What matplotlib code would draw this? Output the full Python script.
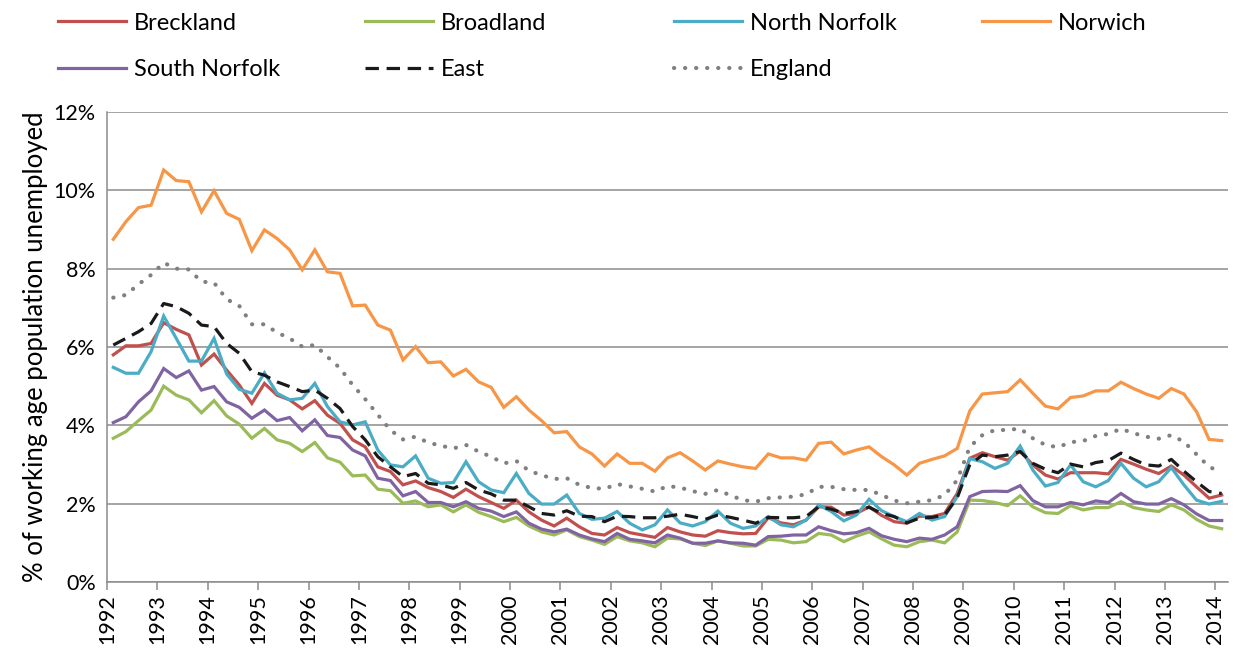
import numpy as np
import matplotlib
matplotlib.use("Agg")
import matplotlib.pyplot as plt

plt.rcParams['font.family'] = ['Lato', 'DejaVu Sans']

# Quarterly claimant unemployment, % of working age population, 1992 Q1 - 2014 Q1
years = list(range(1992, 2015))

breckland = [5.8, 6.03, 6.03, 6.09, 6.62, 6.45, 6.31, 5.54, 5.82, 5.41, 5.03, 4.56, 5.07,
             4.77, 4.65, 4.42, 4.63, 4.26, 4.05, 3.63, 3.45, 2.94, 2.82, 2.48, 2.58,
             2.41, 2.31, 2.16, 2.37, 2.18, 2.03, 1.88, 2.09, 1.79, 1.58, 1.43, 1.63,
             1.41, 1.24, 1.2, 1.39, 1.26, 1.2, 1.14, 1.39, 1.28, 1.2, 1.17, 1.31,
             1.26, 1.23, 1.24, 1.64, 1.51, 1.46, 1.58, 1.92, 1.91, 1.71, 1.75, 1.92,
             1.7, 1.54, 1.5, 1.68, 1.67, 1.75, 2.26, 3.16, 3.3, 3.2, 3.11, 3.34, 2.99,
             2.73, 2.63, 2.79, 2.79, 2.79, 2.76, 3.13, 3.01, 2.88, 2.77, 2.96, 2.73, 2.43, 2.14, 2.22]

broadland = [3.67, 3.84, 4.12, 4.39, 5.0, 4.77, 4.65, 4.32, 4.63, 4.24, 4.03, 3.67, 3.92,
             3.63, 3.54, 3.33, 3.56, 3.17, 3.06, 2.71, 2.73, 2.37, 2.33, 2.01, 2.07,
             1.92, 1.97, 1.79, 1.97, 1.78, 1.67, 1.54, 1.65, 1.43, 1.28, 1.2, 1.33,
             1.16, 1.07, 0.96, 1.16, 1.05, 1.0, 0.9, 1.12, 1.1, 0.99, 0.93, 1.05,
             0.99, 0.92, 0.92, 1.09, 1.07, 1.0, 1.03, 1.24, 1.2, 1.03, 1.17, 1.28,
             1.1, 0.94, 0.9, 1.03, 1.07, 1.0, 1.28, 2.09, 2.08, 2.03, 1.95, 2.2, 1.92,
             1.77, 1.75, 1.95, 1.84, 1.9, 1.9, 2.05, 1.9, 1.84, 1.8, 1.97, 1.84, 1.6, 1.43, 1.36]

north_norfolk = [5.48, 5.33, 5.33, 5.88, 6.79, 6.22, 5.64, 5.64, 6.22, 5.31, 4.92, 4.82, 5.34,
                 4.82, 4.65, 4.69, 5.07, 4.48, 4.09, 4.01, 4.09, 3.37, 2.99, 2.94, 3.22,
                 2.65, 2.52, 2.54, 3.07, 2.56, 2.35, 2.28, 2.77, 2.26, 1.99, 1.99, 2.22,
                 1.75, 1.6, 1.63, 1.8, 1.5, 1.33, 1.46, 1.84, 1.51, 1.43, 1.54, 1.81,
                 1.5, 1.37, 1.43, 1.67, 1.46, 1.41, 1.58, 1.97, 1.8, 1.56, 1.71, 2.11,
                 1.82, 1.67, 1.54, 1.75, 1.58, 1.67, 2.18, 3.15, 3.07, 2.9, 3.03, 3.47, 2.86,
                 2.45, 2.54, 2.99, 2.56, 2.43, 2.59, 3.03, 2.65, 2.43, 2.56, 2.92, 2.48, 2.09, 1.99, 2.06]

norwich = [8.75, 9.2, 9.56, 9.62, 10.52, 10.25, 10.22, 9.45, 9.99, 9.41, 9.26, 8.46, 8.99,
           8.77, 8.48, 7.97, 8.48, 7.92, 7.88, 7.05, 7.07, 6.56, 6.43, 5.67, 6.01,
           5.6, 5.62, 5.26, 5.43, 5.11, 4.97, 4.46, 4.73, 4.39, 4.12, 3.81, 3.84,
           3.45, 3.27, 2.96, 3.27, 3.03, 3.03, 2.83, 3.17, 3.3, 3.09, 2.86, 3.09,
           3.01, 2.94, 2.9, 3.27, 3.17, 3.17, 3.11, 3.54, 3.57, 3.27, 3.37, 3.45,
           3.2, 2.99, 2.73, 3.03, 3.13, 3.22, 3.41, 4.37, 4.8, 4.83, 4.86, 5.16, 4.82,
           4.49, 4.42, 4.71, 4.75, 4.88, 4.88, 5.1, 4.94, 4.8, 4.69, 4.94, 4.8, 4.35, 3.64, 3.61]

south_norfolk = [4.07, 4.22, 4.6, 4.88, 5.45, 5.22, 5.39, 4.9, 4.99, 4.6, 4.46, 4.18, 4.39,
                 4.12, 4.2, 3.86, 4.14, 3.74, 3.69, 3.37, 3.22, 2.65, 2.59, 2.2, 2.31,
                 2.03, 2.03, 1.92, 2.05, 1.88, 1.81, 1.67, 1.79, 1.5, 1.35, 1.28, 1.35,
                 1.2, 1.1, 1.03, 1.24, 1.09, 1.05, 1.0, 1.2, 1.12, 0.99, 0.99, 1.05,
                 1.0, 0.99, 0.94, 1.16, 1.17, 1.2, 1.2, 1.41, 1.31, 1.23, 1.26, 1.37,
                 1.18, 1.09, 1.03, 1.12, 1.09, 1.2, 1.41, 2.18, 2.31, 2.32, 2.31, 2.46, 2.08,
                 1.92, 1.92, 2.03, 1.97, 2.07, 2.03, 2.26, 2.05, 1.99, 1.99, 2.13, 1.97, 1.74, 1.57, 1.57]

east = [6.05, 6.22, 6.39, 6.6, 7.11, 7.03, 6.86, 6.56, 6.52, 6.09, 5.84, 5.37, 5.28,
        5.11, 4.99, 4.86, 4.9, 4.69, 4.43, 3.97, 3.63, 3.2, 2.94, 2.69, 2.77,
        2.52, 2.48, 2.39, 2.54, 2.35, 2.25, 2.09, 2.09, 1.92, 1.75, 1.71, 1.82,
        1.68, 1.67, 1.54, 1.68, 1.67, 1.64, 1.64, 1.68, 1.73, 1.67, 1.6, 1.71,
        1.65, 1.58, 1.5, 1.65, 1.64, 1.64, 1.67, 1.92, 1.86, 1.75, 1.8, 1.91,
        1.75, 1.67, 1.51, 1.63, 1.65, 1.71, 2.15, 3.0, 3.24, 3.2, 3.24, 3.33, 3.03,
        2.88, 2.79, 3.01, 2.94, 3.05, 3.1, 3.29, 3.13, 2.99, 2.96, 3.13, 2.83, 2.56, 2.31, 2.26]

england = [7.26, 7.33, 7.6, 7.84, 8.15, 8.0, 7.98, 7.67, 7.64, 7.22, 7.05, 6.58, 6.58,
           6.37, 6.22, 6.01, 6.05, 5.75, 5.46, 5.03, 4.67, 4.27, 3.88, 3.64, 3.71,
           3.56, 3.48, 3.41, 3.5, 3.33, 3.2, 3.03, 3.09, 2.84, 2.73, 2.63, 2.65,
           2.48, 2.4, 2.38, 2.5, 2.44, 2.38, 2.31, 2.45, 2.41, 2.32, 2.25, 2.35,
           2.21, 2.09, 2.05, 2.14, 2.16, 2.18, 2.24, 2.43, 2.43, 2.37, 2.35, 2.35,
           2.22, 2.08, 2.01, 2.05, 2.09, 2.22, 2.6, 3.45, 3.75, 3.88, 3.88, 3.92, 3.67,
           3.5, 3.44, 3.57, 3.6, 3.73, 3.78, 3.91, 3.8, 3.71, 3.66, 3.75, 3.58, 3.26, 2.94, 2.8]

series = [
    ("Breckland", breckland, dict(color="#C0504D", ls="-", lw=2.3)),
    ("Broadland", broadland, dict(color="#9BBB59", ls="-", lw=2.3)),
    ("North Norfolk", north_norfolk, dict(color="#4BACC6", ls="-", lw=2.3)),
    ("Norwich", norwich, dict(color="#F79646", ls="-", lw=2.3)),
    ("South Norfolk", south_norfolk, dict(color="#8064A2", ls="-", lw=2.3)),
    ("East", east, dict(color="#1A1A1A", dashes=(4.2, 2.4), lw=2.3)),
    ("England", england, dict(color="#808080", dashes=(0.05, 2.6), lw=3.0,
                              dash_capstyle="round")),
]

W, H = 1242, 655
fig = plt.figure(figsize=(W / 100, H / 100), dpi=100)
ax = fig.add_axes([107 / W, 1 - 582 / H, (1228 - 107) / W, (582 - 112) / H])

n = len(norwich)
x = np.arange(n) + 0.5
handles = []
for name, vals, style in series:
    (ln,) = ax.plot(x, vals, label=name, solid_joinstyle="miter", **style)
    handles.append(ln)

ax.set_xlim(0, n)
ax.set_ylim(0, 12)
ax.set_yticks(np.arange(0, 13, 2))
ax.set_yticklabels([f"{v}%" for v in range(0, 13, 2)])
ax.set_xticks(np.arange(0, n, 4))
ax.set_xticklabels([str(y) for y in years], rotation=90)

grid_c = "#8C8C8C"
ax.yaxis.grid(True, color=grid_c, lw=1.1)
ax.set_axisbelow(True)
for s in ("top", "right"):
    ax.spines[s].set_visible(False)
for s in ("left", "bottom"):
    ax.spines[s].set_color(grid_c)
    ax.spines[s].set_linewidth(1.1)
ax.tick_params(axis="x", length=6, width=1.1, color=grid_c, labelsize=15.5, pad=3, labelcolor="#000000")
ax.tick_params(axis="y", length=0, labelsize=15.5, pad=8, labelcolor="#000000")
ax.set_ylabel("% of working age population unemployed", fontsize=18.5, labelpad=4)

# Legend: four equal-width columns, two rows
col_x = [58, 365, 674, 982]
row_y = [23, 70]
for k, h in enumerate(handles):
    r, c = divmod(k, 4)
    fig.legend(handles=[h], labels=[h.get_label()], loc="center left",
               bbox_to_anchor=(col_x[c] / W, 1 - row_y[r] / H),
               frameon=False, fontsize=17, handlelength=2.9, handletextpad=0.3,
               borderpad=0, borderaxespad=0)

fig.savefig("out.png", dpi=100)
